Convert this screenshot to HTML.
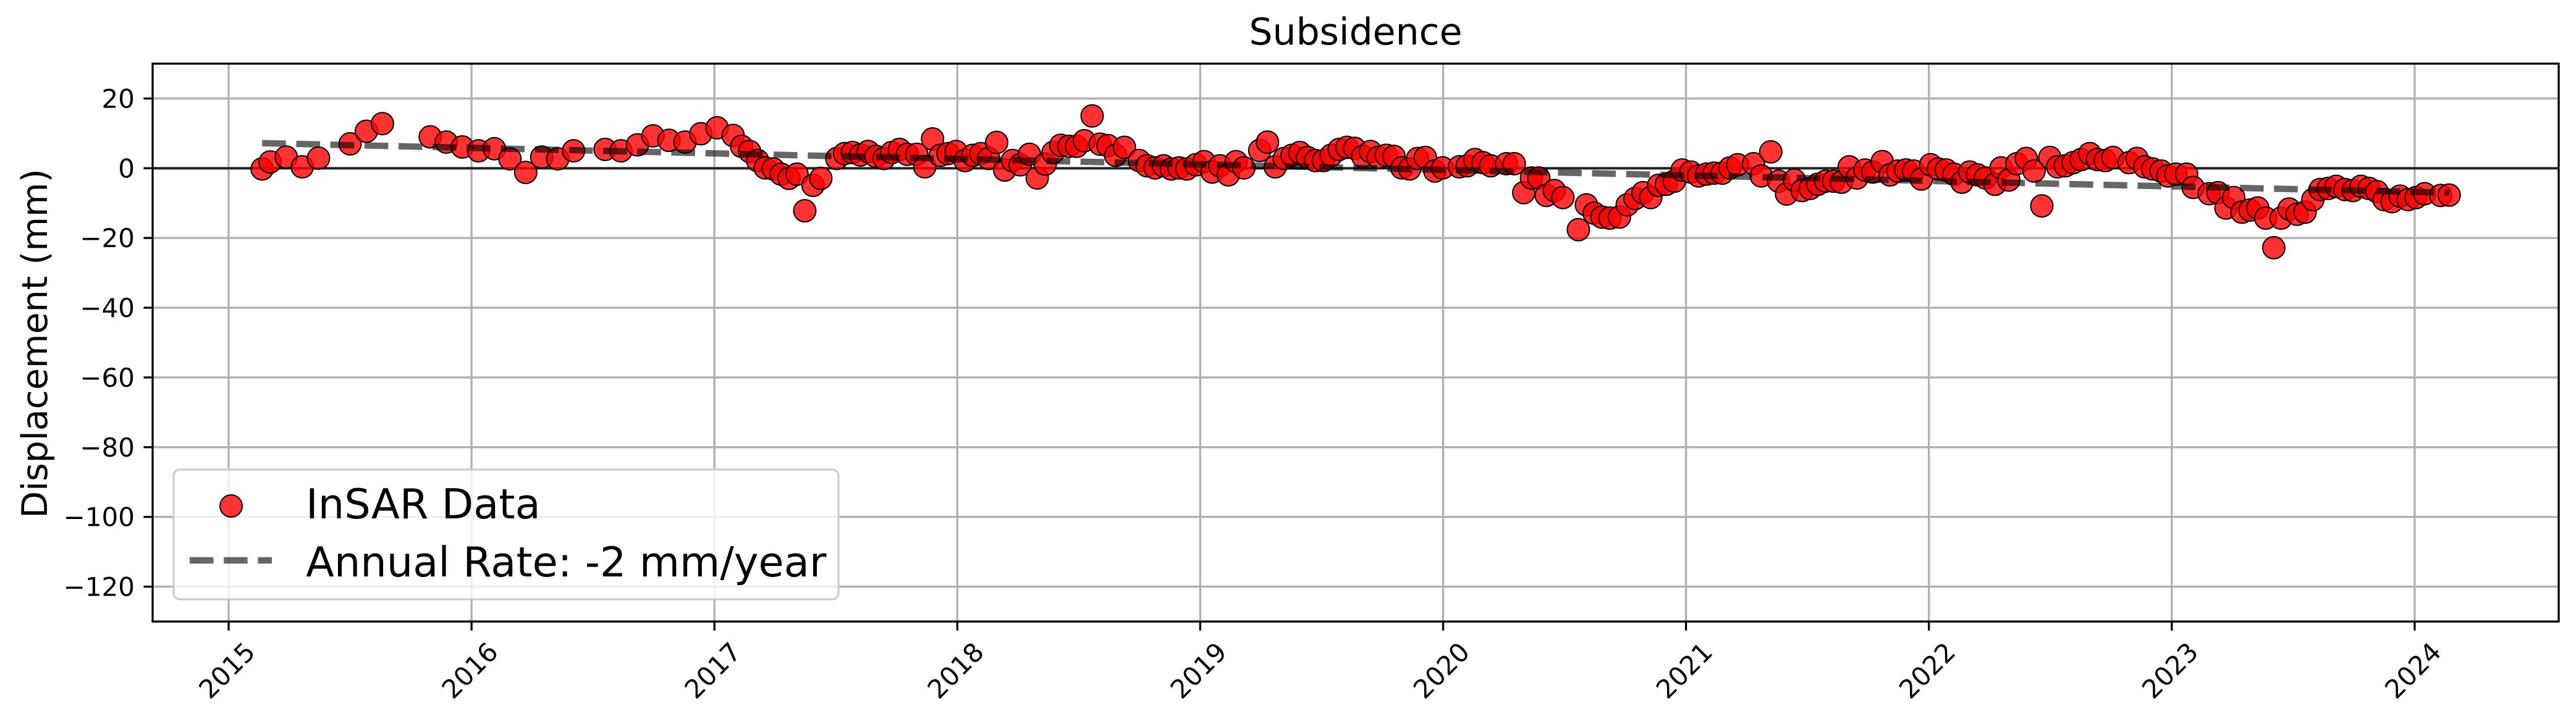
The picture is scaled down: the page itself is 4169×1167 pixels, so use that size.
<!DOCTYPE html>
<html><head><meta charset="utf-8">
<style>
html,body{margin:0;padding:0;background:#fff;}
svg{display:block;font-family:"DejaVu Sans","Liberation Sans",sans-serif;}
</style></head>
<body>
<svg id="chart" width="4169" height="1167" viewBox="0 0 4169 1167" xmlns="http://www.w3.org/2000/svg"></svg>
<script>
const years = [2015.138,2015.171,2015.237,2015.303,2015.37,2015.5,2015.567,2015.633,2015.83,2015.896,2015.962,2016.029,2016.094,2016.158,2016.223,2016.289,2016.355,2016.42,2016.55,2016.615,2016.683,2016.747,2016.813,2016.879,2016.944,2017.011,
2017.077,2017.112,2017.145,2017.178,2017.209,2017.242,2017.275,2017.307,2017.34,2017.372,2017.406,2017.438,2017.504,2017.536,2017.568,2017.601,2017.633,2017.665,2017.698,2017.73,2017.762,2017.794,2017.833,2017.866,2017.898,2017.93,2017.962,2017.995,2018.032,2018.064,2018.097,2018.129,2018.162,2018.195,2018.227,2018.259,2018.297,2018.329,2018.362,2018.394,2018.426,2018.459,2018.491,2018.523,2018.555,2018.588,2018.62,2018.652,2018.688,2018.749,2018.781,2018.814,2018.849,2018.881,2018.913,2018.945,2018.982,
2019.016,2019.049,2019.081,2019.116,2019.148,2019.18,2019.245,2019.277,2019.309,2019.346,2019.378,2019.41,2019.442,2019.475,2019.507,2019.539,2019.572,2019.604,2019.636,2019.669,2019.701,2019.733,2019.766,2019.798,2019.83,2019.862,2019.895,2019.927,2019.966,2019.998,2020.067,2020.099,2020.131,2020.164,2020.196,2020.261,2020.293,2020.332,2020.364,2020.394,2020.425,2020.458,2020.493,2020.557,2020.59,2020.622,2020.654,2020.687,2020.726,2020.758,2020.79,2020.823,2020.855,2020.887,2020.919,2020.952,2020.984,
2021.02,2021.052,2021.084,2021.116,2021.149,2021.181,2021.213,2021.278,2021.31,2021.349,2021.381,2021.414,2021.446,2021.478,2021.511,2021.543,2021.575,2021.608,2021.64,2021.672,2021.704,2021.737,2021.769,2021.808,2021.84,2021.872,2021.905,2021.937,2021.969,2022.007,2022.039,2022.071,2022.103,2022.136,2022.168,2022.2,2022.233,2022.272,2022.297,2022.329,2022.362,2022.401,2022.433,2022.465,2022.498,2022.53,2022.562,2022.594,2022.627,2022.662,2022.694,2022.726,2022.758,2022.824,2022.857,2022.889,2022.921,2022.956,
2022.984,2023.017,2023.061,2023.088,2023.154,2023.19,2023.223,2023.255,2023.289,2023.322,2023.354,2023.387,2023.42,2023.45,2023.483,2023.516,2023.549,2023.581,2023.611,2023.644,2023.677,2023.713,2023.746,2023.779,2023.812,2023.845,2023.874,2023.907,2023.94,2023.973,2024.006,2024.041,2024.107,2024.142];
const displacement = [-0.2,1.8,3.2,0.4,2.9,7.0,10.6,12.8,9.0,7.5,6.1,5.0,5.6,2.7,-1.2,3.2,2.7,5.0,5.4,5.0,6.7,9.3,8.0,7.5,9.9,11.6,
9.4,6.3,4.8,2.2,0.1,-0.2,-1.7,-2.9,-1.7,-12.2,-4.9,-2.9,2.8,4.2,4.5,3.8,4.8,3.4,2.8,4.5,5.4,4.0,4.0,0.4,8.4,3.7,4.2,4.8,2.2,3.7,4.2,2.8,7.4,-0.5,2.2,1.0,4.0,-2.8,1.2,4.5,6.6,6.3,6.3,7.9,15.0,6.9,6.5,3.7,6.0,2.2,0.7,0.1,0.7,-0.2,0.1,-0.2,1.0,
1.9,-1.1,0.7,-1.9,1.9,0.1,5.1,7.5,0.4,2.8,3.7,4.5,3.1,2.2,2.2,3.7,5.4,6.0,5.7,3.4,4.8,3.1,3.7,3.4,0.1,-0.2,2.8,3.1,-0.8,0.1,0.4,0.7,2.5,1.6,0.7,1.3,1.3,-7.0,-2.8,-2.8,-7.8,-6.4,-8.4,-17.6,-10.5,-12.9,-14.0,-14.3,-14.0,-10.5,-8.7,-7.0,-8.4,-4.9,-4.6,-3.7,-0.5,
-1.1,-2.2,-1.7,-1.4,-1.4,0.1,1.0,1.3,-2.2,4.7,-3.7,-7.4,-3.4,-6.4,-5.8,-4.6,-3.7,-3.7,-4.0,0.4,-2.8,-0.5,-1.1,1.9,-1.9,-0.8,-0.5,-0.8,-3.1,1.0,-0.2,-0.5,-1.7,-4.0,-1.1,-1.9,-2.8,-4.6,0.1,-3.4,1.3,2.8,-0.8,-10.8,3.1,0.4,0.7,1.6,2.5,4.2,2.5,2.2,3.1,1.6,2.8,0.4,-0.2,-0.8,
-2.2,-1.7,-1.7,-5.5,-7.3,-7.0,-11.4,-8.4,-12.6,-12.0,-11.4,-14.3,-22.8,-14.3,-11.7,-13.2,-12.6,-9.0,-6.1,-5.8,-5.2,-6.1,-6.4,-5.2,-5.8,-6.7,-9.0,-9.6,-8.0,-9.0,-8.4,-7.3,-7.8,-7.7];
const trendYears = [2015.138, 2024.142];
const trendValues = [7.2, -7.0];
const yTicks = [20,0,-20,-40,-60,-80,-100,-120];
const yTickLabels = ["20","0","\u221220","\u221240","\u221260","\u221280","\u2212100","\u2212120"];
const xTicks = [2015,2016,2017,2018,2019,2020,2021,2022,2023,2024];
const xTickLabels = ["2015","2016","2017","2018","2019","2020","2021","2022","2023","2024"];

const NS="http://www.w3.org/2000/svg";
const svg=document.getElementById('chart');
const L=247,R=4141,T=103,B=1006;
const X0=2014.687,X1=2024.593,Y0=-130,Y1=30;
function sx(v){return L+(v-X0)/(X1-X0)*(R-L);}
function sy(v){return B-(v-Y0)/(Y1-Y0)*(B-T);}
function mk(tag,attrs,parent){const e=document.createElementNS(NS,tag);for(const k in attrs)e.setAttribute(k,attrs[k]);(parent||svg).appendChild(e);return e;}

const grid=mk('g',{});


xTicks.forEach(t=>{const l=mk('line',{x1:sx(t),x2:sx(t),y1:T,y2:B,stroke:'#b0b0b0','stroke-width':3.3},grid);

});
yTicks.forEach(t=>{const l=mk('line',{x1:L,x2:R,y1:sy(t),y2:sy(t),stroke:'#b0b0b0','stroke-width':3.3},grid);

});

const z=mk('line',{x1:L,x2:R,y1:sy(0),y2:sy(0),stroke:'#222','stroke-width':4});



const pts=mk('g',{});


years.forEach((yr,i)=>{const c=mk('circle',{cx:sx(yr),cy:sy(displacement[i]),r:18,fill:'rgba(255,0,0,0.8)',stroke:'#000','stroke-width':2},pts);

});

const tr=mk('line',{x1:sx(trendYears[0]),y1:sy(trendValues[0]),x2:sx(trendYears[1]),y2:sy(trendValues[1]),stroke:'rgba(0,0,0,0.6)','stroke-width':10.4,'stroke-dasharray':'38.5 16.7'});



const fr=mk('rect',{x:L,y:T,width:R-L,height:B-T,fill:'none',stroke:'#000','stroke-width':3.3});



yTicks.forEach((t,i)=>{
 const tk=mk('line',{x1:L-14.6,x2:L,y1:sy(t),y2:sy(t),stroke:'#000','stroke-width':3.3});
 
 
 const tx=mk('text',{x:L-29,y:sy(t)+15,'font-size':42,'text-anchor':'end',fill:'#000'});
 tx.textContent=yTickLabels[i];
 
 
});
xTicks.forEach((t,i)=>{
 const tk=mk('line',{x1:sx(t),x2:sx(t),y1:B,y2:B+14.6,stroke:'#000','stroke-width':3.3});
 
 
 const cx=sx(t)-3, cy=1085;
 const tx=mk('text',{x:cx,y:cy+15,'font-size':42,'text-anchor':'middle',fill:'#000',transform:`rotate(-45 ${cx} ${cy})`});
 tx.textContent=xTickLabels[i];
 
 
});
</script>
<script>
(function(){
const NS="http://www.w3.org/2000/svg";const svg=document.getElementById('chart');
function mk(tag,attrs,parent){const e=document.createElementNS(NS,tag);for(const k in attrs)e.setAttribute(k,attrs[k]);(parent||svg).appendChild(e);return e;}
const title=mk('text',{x:2194,y:72,'font-size':60,'text-anchor':'middle',fill:'#000'});
title.textContent='Subsidence';


const yl=mk('text',{x:0,y:0,'font-size':57,'text-anchor':'middle',fill:'#000',transform:'translate(76 556) rotate(-90)'});
yl.textContent='Displacement (mm)';


const lg=mk('g',{});


const box=mk('rect',{x:281,y:760,width:1076,height:210,rx:10,fill:'rgba(255,255,255,0.8)',stroke:'#cccccc','stroke-width':3.3},lg);


const m=mk('circle',{cx:374,cy:819,r:18,fill:'rgba(255,0,0,0.8)',stroke:'#000','stroke-width':2},lg);


const t1=mk('text',{x:495,y:839,'font-size':67,fill:'#000'},lg);
t1.textContent='InSAR Data';


const ln=mk('line',{x1:307,x2:440,y1:907,y2:907,stroke:'rgba(0,0,0,0.6)','stroke-width':10.4,'stroke-dasharray':'38.5 16.7'},lg);


const t2=mk('text',{x:495,y:933,'font-size':67,fill:'#000'},lg);
t2.textContent='Annual Rate: -2 mm/year';


})();
</script>
</body></html>
